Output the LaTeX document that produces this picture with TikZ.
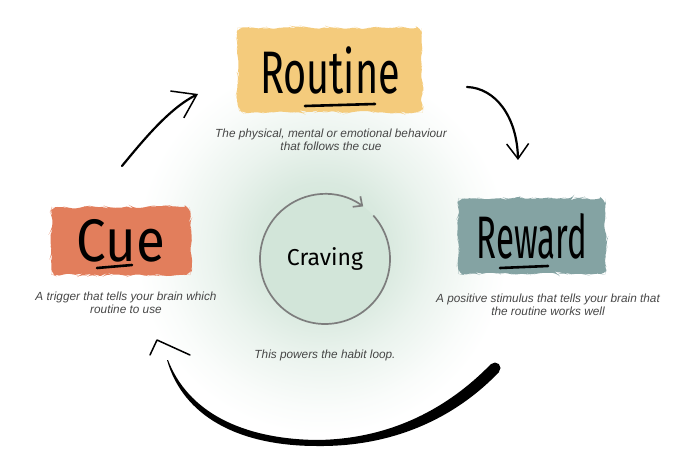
\documentclass[tikz,border=0pt]{standalone}
\usepackage{fontspec}
\setmainfont{Liberation Sans}
\newfontfamily\hand{Fira Sans}
\usepackage{graphicx}
\usetikzlibrary{arrows.meta,positioning,calc,decorations.pathmorphing}

\definecolor{routinecol}{RGB}{244,203,124}
\definecolor{cuecol}{RGB}{226,126,92}
\definecolor{rewardcol}{RGB}{132,163,163}
\definecolor{cravingcol}{RGB}{210,229,217}
\definecolor{ringcol}{RGB}{125,125,125}
\definecolor{desccol}{RGB}{70,70,70}

\pgfdeclareradialshading{glow}{\pgfpointorigin}{color(0bp)=(cravingcol); color(8.5bp)=(cravingcol!85!white); color(14.5bp)=(cravingcol!45!white); color(21bp)=(cravingcol!12!white); color(24.5bp)=(white); color(50bp)=(white)}

\newcommand{\hw}[2]{\scalebox{#1}[1]{#2}}

\begin{document}
\begin{tikzpicture}[x=1pt,y=1pt,
    blob/.style={fill=#1, rounded corners=6pt, decorate, decoration={random steps,segment length=5pt,amplitude=1.8pt}, inner sep=0pt, font=\hand\fontsize{60}{60}\selectfont},
    desc/.style={align=center, text=desccol, font=\itshape\fontsize{11.8}{13.5}\selectfont},
    sketch/.style={line width=2.2pt, line cap=round},
    underl/.style={line width=2.6pt, line cap=round}]
    \useasboundingbox (0,0) rectangle (700,466);
    \shade[shading=glow] (322,218) circle (190);

    \node[blob=routinecol, minimum width=184pt, minimum height=84pt] (routine) at (330,396) {\hw{0.66}{Routine}};
    \node[blob=cuecol, minimum width=139pt, minimum height=68pt] (cue) at (121,225) {\hw{0.88}{Cue}};
    \node[blob=rewardcol, minimum width=147pt, minimum height=75pt] (reward) at (532,230) {\hw{0.55}{Reward}};

    \draw[underl] ($(routine.center)+(-25,-36)$) -- ++(70,2);
    \draw[underl] ($(cue.center)+(-24,-27)$) -- ++(35,3);
    \draw[underl] ($(reward.center)+(-32,-32)$) -- ++(48,2);

    \node[desc] (routineText) at (331,326) {The physical, mental or emotional behaviour\\that follows the cue};
    \node[desc] (cueText) at (126,163) {A trigger that tells your brain which\\routine to use};
    \node[desc] (rewardText) at (548,161) {A positive stimulus that tells your brain that\\the routine works well};
    \node[desc] (loopText) at (325,111) {This powers the habit loop.};

    \fill[cravingcol] (325,207) circle (65);
    \node[font=\hand\fontsize{23}{23}\selectfont] (craving) at (325,207) {Craving};
    \draw[ringcol, line width=1.7pt, -{Straight Barb[length=7pt,width=13pt]}] ($(craving)+(42:65)$) arc[start angle=42, end angle=-306, radius=65];

    \coordinate (cueOut) at (122,300);
    \coordinate (routineIn) at (198,372);
    \coordinate (routineOut) at (467,379);
    \coordinate (rewardIn) at (518,306);
    \coordinate (rewardOut) at (495,98);
    \coordinate (cueIn) at (167,106);

    \draw[sketch, -{Straight Barb[length=22pt,width=30pt,line width=1.5pt]}] (cueOut) .. controls (145,328) and (170,358) .. (routineIn);
    \draw[sketch, -{Straight Barb[length=15pt,width=22pt,line width=1.5pt]}] (routineOut) .. controls (495,378) and (517,350) .. (rewardIn);

    \fill (cueIn) .. controls (183,50) and (238,20) .. (317,20) .. controls (402,19) and (462,55) .. ($(rewardOut)+(4,-4)$) -- ($(rewardOut)+(-4,4)$) .. controls (456,66) and (400,27) .. (317,26) .. controls (242,27) and (188,54) .. ($(cueIn)+(1,0)$) -- cycle;
    \fill (rewardOut) circle (5.5);
    \draw[line width=1.5pt, line cap=round, line join=round] ($(cueIn)+(-17,5)$) -- ($(cueIn)+(-10,20)$) -- ($(cueIn)+(23,5)$);
\end{tikzpicture}
\end{document}
